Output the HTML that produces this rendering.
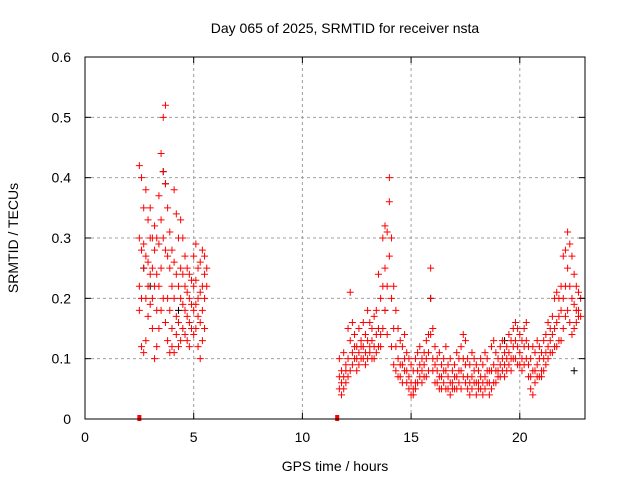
<!DOCTYPE html>
<html><head><meta charset="utf-8"><style>
body{margin:0;background:#fff;}
svg text{font-family:"Liberation Sans",sans-serif;font-size:14px;fill:#000;}
</style></head><body>
<svg id="chart" width="640" height="480" xmlns="http://www.w3.org/2000/svg">
<rect width="640" height="480" fill="#fff"/>
<g id="grid"></g>
<g id="marks"></g>
<rect x="85" y="57" width="500" height="362" fill="none" stroke="#000" stroke-width="1"/>
<g id="ticks"></g>
<text x="345" y="33" text-anchor="middle">Day 065 of 2025, SRMTID for receiver nsta</text>
<text x="335" y="471" text-anchor="middle">GPS time / hours</text>
<text transform="translate(18,238) rotate(-90)" text-anchor="middle">SRMTID / TECUs</text>
</svg>
<script>
const xTicks=[0,5,10,15,20];
const yTicks=[0,0.1,0.2,0.3,0.4,0.5,0.6];
const yTickLabels=["0","0.1","0.2","0.3","0.4","0.5","0.6"];
const redRows=[
[2.5,.42,.30,.22,.18],[2.6,.40,.28,.20,.12],[2.7,.35,.29,.25,.11],[2.8,.38,.27,.20,.13],[2.9,.33,.26,.22,.17],
[3.0,.35,.30,.24,.19],[3.1,.30,.25,.20,.15],[3.2,.32,.28,.22,.10],[3.3,.30,.24,.18,.12],[3.4,.37,.29,.22,.15],
[3.5,.44,.33,.25,.18],[3.6,.50,.41,.30,.20],[3.7,.52,.39,.28,.16],[3.8,.35,.27,.20,.13],[3.9,.31,.25,.18,.11],
[4.0,.28,.22,.15,.12],[4.1,.38,.26,.20,.11],[4.2,.34,.24,.17,.14],[4.3,.30,.22,.16,.12],[4.4,.33,.25,.20,.13],
[4.5,.30,.24,.19,.15],[4.6,.27,.22,.18,.14],[4.7,.25,.21,.17,.13],[4.8,.24,.20,.16,.12],[4.9,.23,.19,.15],
[5.0,.27,.22,.18,.14],[5.1,.29,.23,.19,.15],[5.2,.25,.20,.17,.12],[5.3,.26,.21,.16,.10],[5.4,.28,.22,.18,.13],
[5.5,.27,.24,.20,.15],[5.6,.25,.22],
[11.7,.10,.07,.05],[11.8,.08,.06,.04],[11.9,.11,.07,.05],[12.0,.09,.06,.08],[12.1,.15,.10,.07],[12.2,.21,.13,.08],
[12.3,.16,.11,.09],[12.4,.14,.12,.10],[12.5,.12,.10,.08],[12.6,.15,.11,.09],[12.7,.13,.10,.12],[12.8,.16,.12,.10],
[12.9,.14,.11,.09],[13.0,.18,.13,.10],[13.1,.16,.12,.11],[13.2,.15,.13,.10],[13.3,.17,.12,.10],[13.4,.18,.14,.11],
[13.5,.24,.15,.12],[13.6,.20,.14,.12],[13.7,.30,.22,.15],[13.8,.32,.25,.18],[13.9,.31,.22,.14],[14.0,.40,.36,.27],
[14.1,.30,.20,.12],[14.2,.22,.15,.09],[14.3,.18,.12,.08],[14.4,.15,.10,.07],[14.5,.13,.09,.07],[14.6,.12,.09,.06],
[14.7,.14,.10,.08],[14.8,.11,.08,.06],[14.9,.10,.07,.05],[15.0,.09,.06,.04],[15.1,.08,.05,.04],[15.2,.10,.06,.05],
[15.3,.11,.08,.06],[15.4,.12,.09,.07],[15.5,.10,.08,.06],[15.6,.11,.09,.07],[15.7,.13,.10,.07],[15.8,.14,.11,.08],
[15.9,.25,.20,.14],[16.0,.15,.10,.08],[16.1,.12,.09,.06],[16.2,.10,.08,.06],[16.3,.11,.07,.05],[16.4,.09,.07,.05],
[16.5,.10,.08,.06],[16.6,.12,.08,.05],[16.7,.09,.07,.05],[16.8,.10,.06,.04],[16.9,.08,.06,.05],[17.0,.09,.07,.05],
[17.1,.11,.07,.05],[17.2,.10,.08,.06],[17.3,.12,.08,.05],[17.4,.14,.10,.07],[17.5,.13,.09,.06],[17.6,.10,.07,.05],
[17.7,.09,.06,.04],[17.8,.11,.07,.05],[17.9,.10,.08,.06],[18.0,.09,.06,.04],[18.1,.08,.06,.05],[18.2,.10,.07,.05],
[18.3,.09,.06,.04],[18.4,.11,.07,.05],[18.5,.10,.08,.06],[18.6,.08,.06,.04],[18.7,.12,.08,.05],[18.8,.13,.09,.06],
[18.9,.11,.08,.06],[19.0,.10,.08,.07],[19.1,.12,.09,.07],[19.2,.13,.10,.08],[19.3,.11,.09,.07],[19.4,.12,.10,.08],
[19.5,.14,.11,.09],[19.6,.13,.10,.08],[19.7,.15,.12,.10],[19.8,.16,.13,.10],[19.9,.15,.12,.09],[20.0,.14,.11,.09],
[20.1,.13,.10,.08],[20.2,.15,.12,.09],[20.3,.16,.13,.10],[20.4,.12,.09,.07],[20.5,.10,.07,.05],[20.6,.12,.08,.04],
[20.7,.11,.08,.06],[20.8,.13,.09,.07],[20.9,.12,.10,.07],[21.0,.11,.08,.07],[21.1,.13,.10,.08],[21.2,.14,.11,.09],
[21.3,.16,.12,.10],[21.4,.15,.13,.11],[21.5,.17,.14,.11],[21.6,.20,.15,.12],[21.7,.21,.16,.12],[21.8,.20,.17,.13],
[21.9,.22,.18,.13],[22.0,.27,.20,.15],[22.1,.28,.22,.17],[22.2,.31,.25,.18],[22.3,.29,.22,.16],[22.4,.27,.20,.14],
[22.5,.24,.19,.15],[22.6,.22,.18,.16],[22.7,.21,.18,.17],[22.8,.20,.17]
];
const blackTimes=[2.7,3.0,3.6,3.7,4.3,13.8,15.9,19.3,22.5];
const blackVals=[.25,.22,.41,.39,.18,.18,.20,.13,.08];
const gapTimes=[2.5,11.6];

const X0=85,X1=585,Y0=419,Y1=57,XMAX=23,YMAX=0.6;
const sx=t=>X0+(X1-X0)*t/XMAX;
const sy=v=>Y0-(Y0-Y1)*v/YMAX;
const NS="http://www.w3.org/2000/svg";
function mk(tag,attrs,parent){const e=document.createElementNS(NS,tag);for(const k in attrs)e.setAttribute(k,attrs[k]);parent.appendChild(e);return e;}
const grid=document.getElementById('grid'),ticks=document.getElementById('ticks'),marks=document.getElementById('marks');
xTicks.forEach(t=>{
  const x=sx(t);
  if(t>0){const g=mk('line',{x1:x,x2:x,y1:Y0,y2:Y1,stroke:'#a0a0a0','stroke-dasharray':'3,3'},grid);
  
  }
  mk('line',{x1:x,x2:x,y1:Y0,y2:Y0-6,stroke:'#000'},ticks);
  mk('line',{x1:x,x2:x,y1:Y1,y2:Y1+6,stroke:'#000'},ticks);
  const l=mk('text',{x:x,y:Y0+23,'text-anchor':'middle'},ticks);l.textContent=t;
  
  
});
yTicks.forEach((v,i)=>{
  const y=sy(v);
  if(v>0&&v<0.6){const g=mk('line',{x1:X0,x2:X1,y1:y,y2:y,stroke:'#a0a0a0','stroke-dasharray':'3,3'},grid);
  
  }
  mk('line',{x1:X0,x2:X0+6,y1:y,y2:y,stroke:'#000'},ticks);
  mk('line',{x1:X1,x2:X1-6,y1:y,y2:y,stroke:'#000'},ticks);
  const l=mk('text',{x:X0-14,y:y+5,'text-anchor':'end'},ticks);l.textContent=yTickLabels[i];
  
  
});
function plus(t,v,c){
  const x=sx(t),y=sy(v);
  const p=mk('path',{d:`M${x-3.5},${y}h7M${x},${y-3.5}v7`,stroke:c,'stroke-width':1,fill:'none'},marks);
  
  
}
blackTimes.forEach((t,i)=>plus(t,blackVals[i],'#000'));
redRows.forEach(r=>{for(let j=1;j<r.length;j++)plus(r[0],r[j],'#f00');});
gapTimes.forEach(t=>{
  const r=mk('rect',{x:sx(t)-2,y:Y0-4,width:4,height:6,fill:'#f00'},marks);
  
  
});
</script>
</body></html>
